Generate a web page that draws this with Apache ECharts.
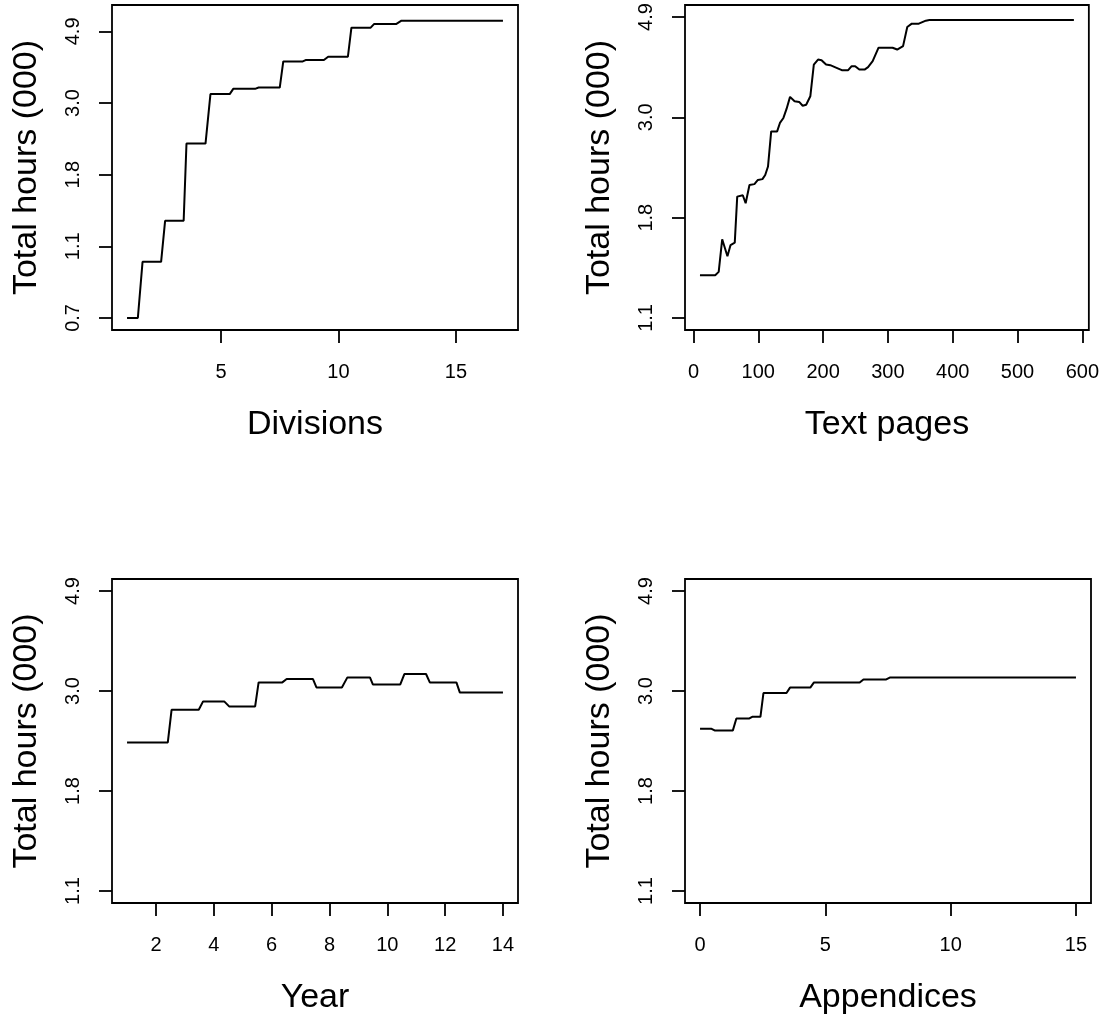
<!DOCTYPE html>
<html>
<head>
<meta charset="utf-8">
<script src="https://cdn.jsdelivr.net/npm/echarts@6/dist/echarts.min.js"></script>
<style>
  html, body { margin: 0; padding: 0; background: #fff; }
  #main { width: 1102px; height: 1018px; }
</style>
</head>
<body>
<div id="main"></div>
<script>
// Total hours (000) against each predictor, log scale on y

// Divisions
var divX = [1, 1.46, 1.66, 2.45, 2.62, 3.41, 3.53, 4.34, 4.55, 5.37, 5.52, 6.45, 6.60, 7.50, 7.65, 8.48, 8.60, 9.38, 9.56, 10.40, 10.55, 11.37, 11.51, 12.45, 12.68, 17];
var divH = [0.665, 0.665, 0.984, 0.984, 1.310, 1.310, 2.246, 2.246, 3.172, 3.172, 3.291, 3.291, 3.321, 3.321, 3.984, 3.984, 4.024, 4.024, 4.117, 4.117, 5.044, 5.044, 5.172, 5.172, 5.297, 5.297];

// Text pages
var pageX = [10, 33.5, 38.9, 44.3, 52.4, 57.2, 63.7, 67.5, 76.1, 80.5, 86.4, 94.0, 99.4, 106.4, 110.7, 115.0, 119.9, 129.1, 133.4, 138.8, 143.6, 149.0, 156.0, 163.1, 168.5, 173.9, 180.3, 185.7, 192.2, 197.6, 204.6, 211.1, 220.8, 228.9, 238.7, 244.1, 249.5, 255.9, 264.0, 269.4, 276.5, 285.6, 307.2, 314.3, 323.4, 329.9, 336.9, 347.7, 358.5, 364.0, 587];
var pageH = [1.357, 1.357, 1.380, 1.623, 1.492, 1.577, 1.596, 2.008, 2.022, 1.943, 2.128, 2.137, 2.182, 2.191, 2.237, 2.333, 2.779, 2.779, 2.899, 2.972, 3.109, 3.301, 3.229, 3.219, 3.159, 3.175, 3.311, 3.878, 3.976, 3.964, 3.878, 3.866, 3.816, 3.771, 3.771, 3.847, 3.847, 3.782, 3.782, 3.828, 3.944, 4.218, 4.218, 4.180, 4.252, 4.675, 4.755, 4.755, 4.827, 4.841, 4.841];

// Year
var yearX = [1, 2.41, 2.54, 3.48, 3.63, 4.36, 4.53, 5.43, 5.55, 6.37, 6.52, 7.43, 7.55, 8.43, 8.62, 9.40, 9.50, 10.45, 10.59, 11.34, 11.47, 12.39, 12.51, 14];
var yearH = [2.305, 2.305, 2.714, 2.714, 2.830, 2.830, 2.760, 2.760, 3.112, 3.112, 3.165, 3.165, 3.035, 3.035, 3.191, 3.191, 3.081, 3.081, 3.245, 3.245, 3.112, 3.112, 2.957, 2.957];

// Appendices
var appX = [0, 0.46, 0.58, 1.31, 1.45, 1.97, 2.08, 2.41, 2.53, 3.45, 3.59, 4.40, 4.54, 6.37, 6.52, 7.43, 7.57, 15];
var appH = [2.468, 2.468, 2.448, 2.448, 2.599, 2.599, 2.620, 2.620, 2.951, 2.951, 3.032, 3.032, 3.109, 3.109, 3.159, 3.159, 3.188, 3.188];

// tick positions (y in log hours)
var yTicksA = [6.5, 7, 7.5, 8, 8.5];
var yTicksB = [7, 7.5, 8, 8.5];
var divTicks = [5, 10, 15];
var pageTicks = [0, 100, 200, 300, 400, 500, 600];
var yearTicks = [2, 4, 6, 8, 10, 12, 14];
var appTicks = [0, 5, 10, 15];

var myChart = echarts.init(document.getElementById('main'));
var font = 'Liberation Sans, Arial, sans-serif';

// R style 4% padding
function pad(a, b) {
	var d = (b - a) * 0.04;
	return [a - d, b + d];
}

function toPairs(xs, hs) {
	return xs.map(function (x, i) {
		return [x, Math.log(hs[i] * 1000)];
	});
}

var panels = [
	{ grid: { left: 112, top: 5, width: 406, height: 325 }, x: divX, h: divH, xt: divTicks, yt: yTicksA, ylim: [6.5, 8.6], name: 'Divisions' },
	{ grid: { left: 685, top: 5, width: 406, height: 325 }, x: pageX, h: pageH, xt: pageTicks, yt: yTicksB, ylim: [7, 8.5], name: 'Text pages' },
	{ grid: { left: 112, top: 579, width: 406, height: 324 }, x: yearX, h: yearH, xt: yearTicks, yt: yTicksB, ylim: [7, 8.5], name: 'Year' },
	{ grid: { left: 685, top: 579, width: 406, height: 324 }, x: appX, h: appH, xt: appTicks, yt: yTicksB, ylim: [7, 8.5], name: 'Appendices' }
];

var grids = [], xAxes = [], yAxes = [], series = [];
panels.forEach(function (p, i) {
	var g = p.grid;
	grids.push({ left: g.left, top: g.top, width: g.width, height: g.height, show: true, borderColor: '#000', borderWidth: 1.8, backgroundColor: 'transparent' });
	var xr = pad(Math.min.apply(null, p.x), Math.max.apply(null, p.x));
	var yr = pad(p.ylim[0], p.ylim[1]);
	xAxes.push({
		type: 'value', gridIndex: i, min: xr[0], max: xr[1],
		axisLine: { show: false, onZero: false },
		splitLine: { show: false },
		axisTick: { show: true, inside: false, customValues: p.xt, length: 13, lineStyle: { color: '#000', width: 1.8 } },
		axisLabel: { customValues: p.xt, margin: 32, fontSize: 20, color: '#000', fontFamily: font },
		name: p.name, nameLocation: 'middle', nameGap: 78,
		nameTextStyle: { fontSize: 34, color: '#000', fontFamily: font }
	});
	yAxes.push({
		type: 'value', gridIndex: i, min: yr[0], max: yr[1],
		axisLine: { show: false, onZero: false },
		splitLine: { show: false },
		axisTick: { show: true, inside: false, customValues: p.yt, length: 13, lineStyle: { color: '#000', width: 1.8 } },
		axisLabel: {
			customValues: p.yt, rotate: 90, margin: 29, fontSize: 20, color: '#000', fontFamily: font,
			formatter: function (v) { return (Math.exp(v) / 1000).toFixed(1); }
		},
		name: 'Total hours (000)', nameLocation: 'middle', nameGap: 68,
		nameTextStyle: { fontSize: 34, color: '#000', fontFamily: font }
	});
	series.push({
		type: 'line', xAxisIndex: i, yAxisIndex: i,
		data: toPairs(p.x, p.h),
		showSymbol: false,
		lineStyle: { color: '#000', width: 2 },
		itemStyle: { color: '#000' }
	});
});

var option = {
	backgroundColor: '#fff',
	animation: false,
	grid: grids,
	xAxis: xAxes,
	yAxis: yAxes,
	series: series
};
myChart.setOption(option);
</script>
</body>
</html>
